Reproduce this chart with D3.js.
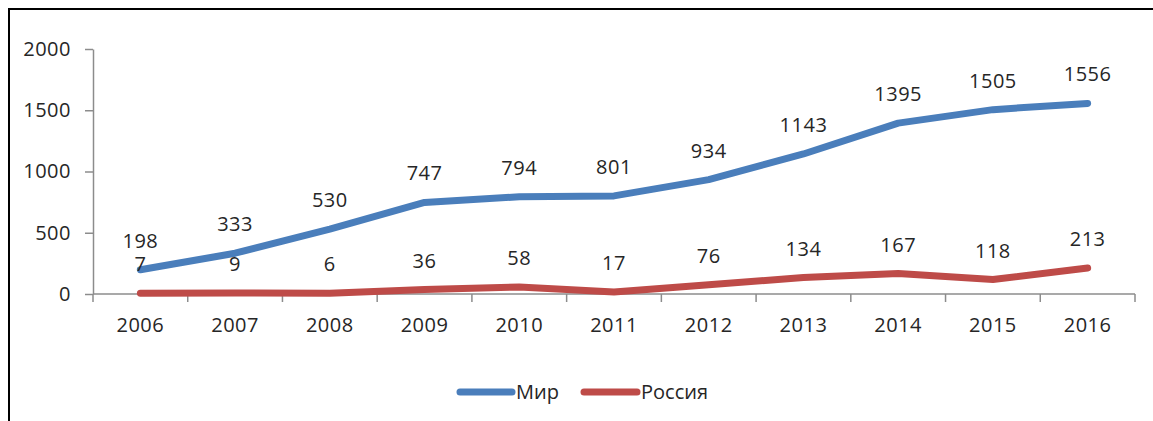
<!DOCTYPE html>
<html>
<head>
<meta charset="utf-8">
<script src="https://cdn.jsdelivr.net/npm/d3@7"></script>
<style>
  body { margin: 0; background: #fff; }
  svg text { font-family: "Open Sans", sans-serif; fill: #262626; }
</style>
</head>
<body>
<div class="chart"></div>
<script>
var years = ["2006", "2007", "2008", "2009", "2010", "2011", "2012", "2013", "2014", "2015", "2016"];
var mir = [198, 333, 530, 747, 794, 801, 934, 1143, 1395, 1505, 1556];
var russia = [7, 9, 6, 36, 58, 17, 76, 134, 167, 118, 213];
var yTicks = [0, 500, 1000, 1500, 2000];
var seriesNames = ["Мир", "Россия"];
var seriesColors = ["#4a7ebb", "#be4b48"];

var width = 1153, height = 421;
var plot = { left: 93, right: 1135, top: 49, bottom: 294 };
var fontSize = "20px";

var svg = d3.select(".chart").append("svg")
  .attr("width", width)
  .attr("height", height);

// frame (left and top edges only are visible)
svg.append("path")
  .attr("d", "M9,421 V9 H1153")
  .attr("fill", "none")
  .attr("stroke", "#000")
  .attr("stroke-width", 2);

var x = d3.scaleBand()
  .domain(years)
  .range([plot.left, plot.right]);

var y = d3.scaleLinear()
  .domain([0, 2000])
  .range([plot.bottom, plot.top]);

// y axis
var yAxis = svg.append("g")
  .attr("transform", "translate(" + plot.left + ",0)")
  .call(d3.axisLeft(y).tickValues(yTicks).tickFormat(d3.format("d"))
    .tickSize(8).tickPadding(14).tickSizeOuter(0));
yAxis.select(".domain").attr("stroke", "#8c8c8c").attr("stroke-width", 1.5);
yAxis.selectAll(".tick line").attr("stroke", "#8c8c8c").attr("stroke-width", 1.5);
yAxis.selectAll(".tick text")
  .style("font-size", fontSize).style("letter-spacing", "0.5px");

// x axis with ticks between categories
var xg = svg.append("g")
  .attr("transform", "translate(0," + plot.bottom + ")");
xg.append("line")
  .attr("x1", plot.left).attr("x2", plot.right)
  .attr("stroke", "#8c8c8c").attr("stroke-width", 1.5);
var bounds = years.map(function(d) { return x(d); }).concat([x(years[years.length - 1]) + x.bandwidth()]);
xg.selectAll(".xtick")
  .data(bounds)
  .enter().append("line")
    .attr("x1", function(d) { return d; })
    .attr("x2", function(d) { return d; })
    .attr("y1", 0).attr("y2", 8)
    .attr("stroke", "#8c8c8c").attr("stroke-width", 1.5);
xg.selectAll(".xlabel")
  .data(years)
  .enter().append("text")
    .attr("x", function(d) { return x(d) + x.bandwidth() / 2; })
    .attr("y", 38)
    .attr("text-anchor", "middle")
    .style("font-size", fontSize).style("letter-spacing", "0.5px")
    .text(function(d) { return d; });

var line = d3.line()
  .x(function(d, i) { return x(years[i]) + x.bandwidth() / 2; })
  .y(function(d) { return y(d); });

[mir, russia].forEach(function(vals, k) {
  svg.append("path")
    .datum(vals)
    .attr("d", line)
    .attr("fill", "none")
    .attr("stroke", seriesColors[k])
    .attr("stroke-width", 7)
    .attr("stroke-linejoin", "round")
    .attr("stroke-linecap", "round");

  svg.selectAll(".lbl" + k)
    .data(vals)
    .enter().append("text")
      .attr("x", function(d, i) { return x(years[i]) + x.bandwidth() / 2; })
      .attr("y", function(d) { return y(d) - 22; })
      .attr("text-anchor", "middle")
      .style("font-size", fontSize).style("letter-spacing", "0.5px")
      .text(function(d) { return d; });
});

// legend
var legendItems = [
  { name: seriesNames[0], color: seriesColors[0], x1: 460, x2: 512, tx: 516 },
  { name: seriesNames[1], color: seriesColors[1], x1: 584, x2: 637, tx: 641 }
];
var legend = svg.selectAll(".legend")
  .data(legendItems)
  .enter().append("g")
    .attr("class", "legend");
legend.append("line")
  .attr("x1", function(d) { return d.x1; })
  .attr("x2", function(d) { return d.x2; })
  .attr("y1", 392).attr("y2", 392)
  .attr("stroke", function(d) { return d.color; })
  .attr("stroke-width", 7)
  .attr("stroke-linecap", "round");
legend.append("text")
  .attr("x", function(d) { return d.tx; })
  .attr("y", 399)
  .style("font-size", fontSize)
  .text(function(d) { return d.name; });
</script>
</body>
</html>
